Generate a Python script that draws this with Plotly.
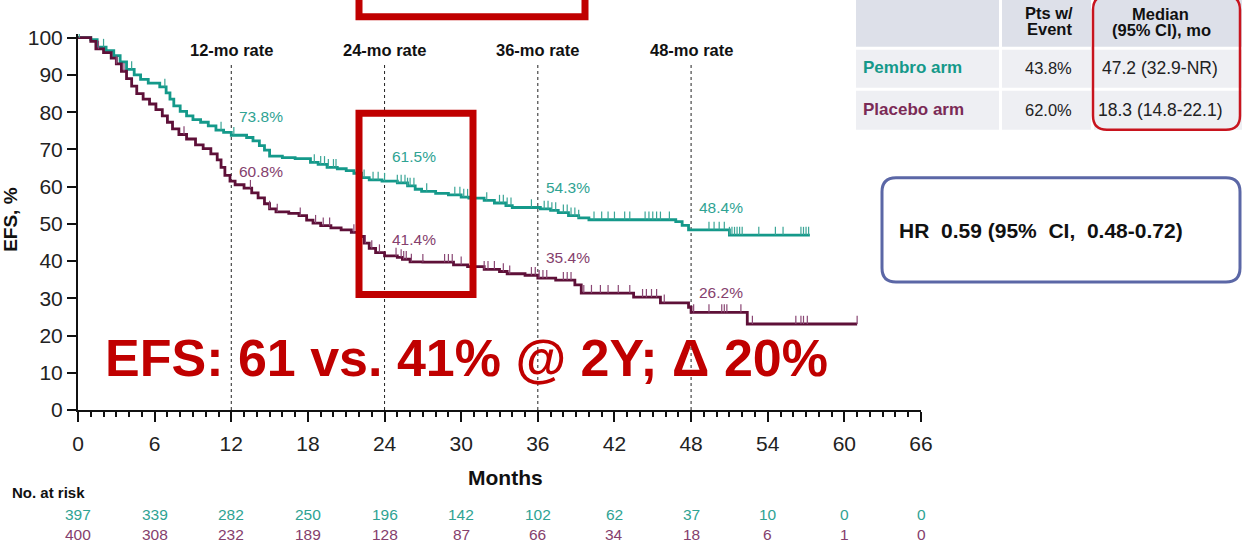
import plotly.graph_objects as go

# ---------------- data ----------------
months_ticks = list(range(0, 67, 6))
risk_pembro = [397, 339, 282, 250, 196, 142, 102, 62, 37, 10, 0, 0]
risk_placebo = [400, 308, 232, 189, 128, 87, 66, 34, 18, 6, 1, 0]

pembro_t = [0, 1.0, 1.5, 2.2, 2.8, 3.3, 3.8, 4.4, 4.9, 5.5, 6.4, 6.9, 7.2, 7.5, 8.0, 8.5, 9.0, 9.6,
            10.2, 10.8, 11.4, 12.0, 13.2, 13.7, 14.2, 14.6, 15.0, 16.0, 17.0, 18.2, 18.8, 19.5, 20.3,
            21.0, 21.6, 22.2, 22.8, 23.8, 25.0, 25.8, 26.4, 26.9, 28.0, 29.0, 30.0, 30.6, 31.8, 32.6,
            33.5, 34.0, 36.2, 37.0, 37.6, 38.4, 39.2, 40.0, 46.8, 47.3, 47.8, 51.0]
pembro_s = [100, 99.5, 97.5, 96.5, 95.2, 93.5, 91.5, 90.0, 88.8, 87.8, 86.8, 85.2, 83.5, 81.7, 80.2,
            79.0, 78.0, 77.3, 76.3, 75.2, 74.6, 73.8, 73.2, 72.3, 71.0, 69.8, 68.2, 67.8, 67.5, 66.5,
            66.0, 65.2, 64.8, 64.3, 63.6, 62.4, 61.8, 61.5, 61.0, 60.2, 59.3, 58.7, 58.2, 57.8, 57.2,
            56.9, 56.3, 55.6, 54.9, 54.4, 54.0, 53.6, 53.0, 52.2, 51.6, 51.1, 50.6, 49.6, 48.4, 47.0]
pembro_end = 57.3

placebo_t = [0, 1.0, 1.4, 2.0, 2.6, 3.0, 3.4, 3.8, 4.2, 4.6, 5.1, 5.6, 6.1, 6.6, 7.0, 7.4, 7.9, 8.5,
             9.2, 9.8, 10.4, 10.9, 11.2, 11.5, 11.9, 12.3, 13.0, 13.6, 14.1, 14.6, 15.0, 15.5, 16.5,
             17.3, 17.9, 18.4, 19.0, 19.8, 20.6, 21.4, 22.0, 22.4, 22.8, 23.3, 24.0, 25.0, 25.4, 26.0,
             27.0, 29.4, 30.5, 31.8, 33.0, 33.6, 35.0, 36.0, 37.4, 38.9, 39.4, 43.5, 45.6, 47.8, 48.0,
             52.4]
placebo_s = [100, 99.0, 97.0, 96.0, 94.5, 93.0, 91.0, 89.0, 87.0, 85.0, 83.5, 82.2, 80.7, 79.0, 77.3,
             75.5, 74.0, 72.8, 71.2, 70.2, 68.8, 67.2, 65.2, 63.0, 61.5, 60.5, 59.6, 58.3, 57.0, 55.4,
             54.0, 53.2, 52.8, 52.2, 51.0, 50.2, 49.5, 48.9, 48.4, 47.7, 46.6, 44.8, 43.4, 42.3, 41.4,
             41.0, 40.5, 39.8, 39.7, 39.0, 38.5, 37.8, 37.2, 36.6, 36.2, 35.4, 34.9, 33.6, 31.4, 30.3,
             28.8, 27.6, 26.2, 23.1]
placebo_end = 61.0

pembro_cens = [0.1, 2.0, 4.2, 6.8, 11.2, 12.2, 18.5, 19.0, 19.3, 19.6, 20.0, 20.2, 22.0, 22.4, 23.1,
               23.5, 24.0, 25.0, 25.3, 25.6, 25.8, 26.0, 26.3, 27.3, 29.5, 29.9, 30.2, 30.5, 32.0,
               33.0, 33.3, 33.6, 33.9, 35.5, 36.5, 36.8, 37.1, 37.4, 38.0, 38.3, 38.6, 38.9, 39.2,
               40.4, 41.0, 41.5, 42.0, 42.8, 43.2, 44.4, 44.7, 45.0, 45.3, 45.6, 46.3, 49.4, 49.8,
               50.2, 50.6, 51.0, 51.2, 51.4, 51.6, 51.8, 52.0, 53.3, 54.6, 55.2, 56.6, 56.8, 57.0, 57.2]
placebo_cens = [1.6, 3.0, 3.6, 8.3, 13.5, 15.0, 15.6, 17.4, 18.6, 19.2, 19.7, 21.6, 22.5, 23.0, 23.6,
                24.9, 25.3, 25.5, 25.7, 26.1, 27.0, 28.7, 29.0, 29.3, 30.0, 31.0, 31.8, 32.1, 32.6,
                33.3, 33.8, 35.5, 35.8, 36.1, 36.4, 36.7, 38.0, 38.3, 38.6, 39.6, 40.2, 40.9, 41.5,
                42.3, 43.2, 44.2, 44.5, 44.9, 45.3, 45.9, 48.2, 49.4, 50.4, 50.6, 50.8, 51.9, 52.8,
                56.2, 56.6, 56.8, 57.1, 61.0]

rate_months = [12, 24, 36, 48]
rate_titles = ["12-mo rate", "24-mo rate", "36-mo rate", "48-mo rate"]
pembro_rates = [73.8, 61.5, 54.3, 48.4]
placebo_rates = [60.8, 41.4, 35.4, 26.2]
pembro_label_y = [78.8, 68.0, 59.9, 54.3]
placebo_label_y = [64.0, 45.7, 40.9, 31.5]

table_header = ["Pts w/", "Event", "Median", "(95% CI), mo"]
table_arms = ["Pembro arm", "Placebo arm"]
table_event = ["43.8%", "62.0%"]
table_median = ["47.2 (32.9-NR)", "18.3 (14.8-22.1)"]
hr_text = "HR  0.59 (95%  CI,  0.48-0.72)"
headline = "EFS: 61 vs. 41% @ 2Y; \u0394 20%"

# ---------------- style ----------------
FONT = "Liberation Sans, Arial, sans-serif"
TEAL_LINE = "#14998a"
TEAL_TEXT = "#2fa393"
TEAL_TICK = "#3aa596"
MAR_LINE = "#5e1038"
MAR_TEXT = "#85406d"
MAR_TICK = "#8a4774"
RED = "#c00000"

W, H = 1242, 545
X0PX, X1PX = 78, 921
YTOPPX, YBOTPX = 34.3, 410
XMAX, YMAX = 66, 101


def px_x(px):
    return (px - X0PX) / (X1PX - X0PX)


def px_y(py):
    return (YBOTPX - py) / (YBOTPX - YTOPPX)


def step_at(ts, ss, t):
    v = ss[0]
    for a, b in zip(ts, ss):
        if a <= t:
            v = b
        else:
            break
    return v


def rrect_path(x0, y0, x1, y1, r):
    def P(x, y):
        return f"{px_x(x):.5f},{px_y(y):.5f}"
    return (f"M {P(x0 + r, y0)} L {P(x1 - r, y0)} Q {P(x1, y0)} {P(x1, y0 + r)} "
            f"L {P(x1, y1 - r)} Q {P(x1, y1)} {P(x1 - r, y1)} L {P(x0 + r, y1)} "
            f"Q {P(x0, y1)} {P(x0, y1 - r)} L {P(x0, y0 + r)} Q {P(x0, y0)} {P(x0 + r, y0)} Z")


def note(text, x, y, xref="paper", yref="paper", size=15, color="#111", xanchor="center",
         yanchor="middle", **kw):
    return dict(x=x, y=y, xref=xref, yref=yref, text=text, showarrow=False,
                xanchor=xanchor, yanchor=yanchor,
                font=dict(size=size, color=color, family=FONT), **kw)


fig = go.Figure()

# curves
for ts, ss, end, col in [(pembro_t, pembro_s, pembro_end, TEAL_LINE),
                         (placebo_t, placebo_s, placebo_end, MAR_LINE)]:
    fig.add_trace(go.Scatter(x=ts + [end], y=ss + [ss[-1]], mode="lines",
                             line=dict(color=col, width=2.8, shape="hv"),
                             hoverinfo="skip", showlegend=False))

# censor ticks
for ts, ss, cens, col in [(pembro_t, pembro_s, pembro_cens, TEAL_TICK),
                          (placebo_t, placebo_s, placebo_cens, MAR_TICK)]:
    xs, ys = [], []
    for c in cens:
        s = step_at(ts, ss, c)
        xs += [c, c, None]
        ys += [s, s + 2.2, None]
    fig.add_trace(go.Scatter(x=xs, y=ys, mode="lines", line=dict(color=col, width=1.2),
                             hoverinfo="skip", showlegend=False))

shapes = []
ann = []

# dotted rate lines + titles + labels
for i, m in enumerate(rate_months):
    shapes.append(dict(type="line", xref="x", yref="y", x0=m, x1=m, y0=0, y1=93.3,
                       line=dict(color="#222", width=1, dash="dot"), layer="below"))
    ann.append(note(f"<b>{rate_titles[i]}</b>", m, px_y(50), xref="x", size=16.5))
    ann.append(note(f"{pembro_rates[i]}%", m + 0.45, pembro_label_y[i], xref="x", yref="y",
                    xanchor="left", size=15.5, color=TEAL_TEXT))
    ann.append(note(f"{placebo_rates[i]}%", m + 0.45, placebo_label_y[i], xref="x", yref="y",
                    xanchor="left", size=15.5, color=MAR_TEXT))

# risk table
for i, m in enumerate(months_ticks):
    ann.append(note(str(risk_pembro[i]), m, px_y(514), xref="x", size=15.5, color=TEAL_TEXT))
    ann.append(note(str(risk_placebo[i]), m, px_y(534), xref="x", size=15.5, color=MAR_TEXT))
ann.append(note("<b>No. at risk</b>", px_x(10), px_y(492), xanchor="left", size=15))
ann.append(note("<b>Months</b>", px_x(505), px_y(477), size=21))
ann.append(note("<b>EFS, %</b>", px_x(11), px_y(220), size=19, textangle=-90))

# headline
ann.append(note(f"<b>{headline}</b>", px_x(466), px_y(358), size=52, color=RED))

# red highlight boxes
shapes.append(dict(type="rect", xref="paper", yref="paper", x0=px_x(359), x1=px_x(473),
                   y0=px_y(113.5), y1=px_y(294.5), line=dict(color=RED, width=7)))
shapes.append(dict(type="rect", xref="paper", yref="paper", x0=px_x(359), x1=px_x(585),
                   y0=px_y(-10), y1=px_y(17), line=dict(color=RED, width=7)))

# table cells
cols = [(856, 999), (1002, 1091), (1094, 1245)]
rows = [(-2, 47, "#dde0e9"), (50, 88, "#eeeff3"), (91, 130, "#eeeff3")]
for (ya, yb, fc) in rows:
    for (xa, xb) in cols:
        shapes.append(dict(type="rect", xref="paper", yref="paper", x0=px_x(xa), x1=px_x(xb),
                           y0=px_y(yb), y1=px_y(ya), line=dict(width=0), fillcolor=fc,
                           layer="below"))
shapes.append(dict(type="path", xref="paper", yref="paper",
                   path=rrect_path(1093, -4, 1240, 130, 14),
                   line=dict(color="#c8141e", width=2.5)))

hdr_pos = [(1049, 13), (1049, 29), (1160, 14), (1161, 30)]
for txt, (x, y) in zip(table_header, hdr_pos):
    ann.append(note(f"<b>{txt}</b>", px_x(x), px_y(y), size=16.5))
arm_cols = [TEAL_LINE, "#7b2a56"]
for i, yy in enumerate([68, 110]):
    ann.append(note(f"<b>{table_arms[i]}</b>", px_x(861), px_y(yy), xanchor="left", size=17,
                    color=arm_cols[i]))
    ann.append(note(table_event[i], px_x(1048), px_y(yy), size=16.5, color="#222"))
    ann.append(note(table_median[i], px_x(1160), px_y(yy), size=17.5, color="#222"))

# HR box
shapes.append(dict(type="path", xref="paper", yref="paper",
                   path=rrect_path(882, 178, 1240, 282, 14),
                   line=dict(color="#5b67a6", width=3), fillcolor="white"))
ann.append(note(f"<b>{hr_text}</b>", px_x(897), px_y(231), xanchor="left", size=21))

fig.update_layout(
    width=W, height=H, paper_bgcolor="white", plot_bgcolor="white",
    margin=dict(l=X0PX, r=W - X1PX, t=YTOPPX, b=H - YBOTPX, autoexpand=False),
    shapes=shapes, annotations=ann, showlegend=False,
    font=dict(family=FONT, color="#222"),
)
fig.update_xaxes(range=[0, XMAX], tickvals=months_ticks, showline=True, linecolor="#111",
                 linewidth=2, ticks="outside", ticklen=10, tickwidth=2, tickcolor="#111",
                 minor=dict(dtick=1, ticks="outside", ticklen=5, tickwidth=1.5, tickcolor="#111"),
                 showgrid=False, zeroline=False, tickfont=dict(size=21, color="#222", family=FONT),
                 ticklabelstandoff=4)
fig.update_yaxes(range=[0, YMAX], tickvals=list(range(0, 101, 10)), showline=True,
                 linecolor="#111", linewidth=2, ticks="outside", ticklen=9, tickwidth=2,
                 tickcolor="#111", showgrid=False, zeroline=False,
                 tickfont=dict(size=21, color="#222", family=FONT))

fig.write_html("out.html", config={"displayModeBar": False},
               post_script="document.body.style.margin='0';document.body.style.padding='0';")
